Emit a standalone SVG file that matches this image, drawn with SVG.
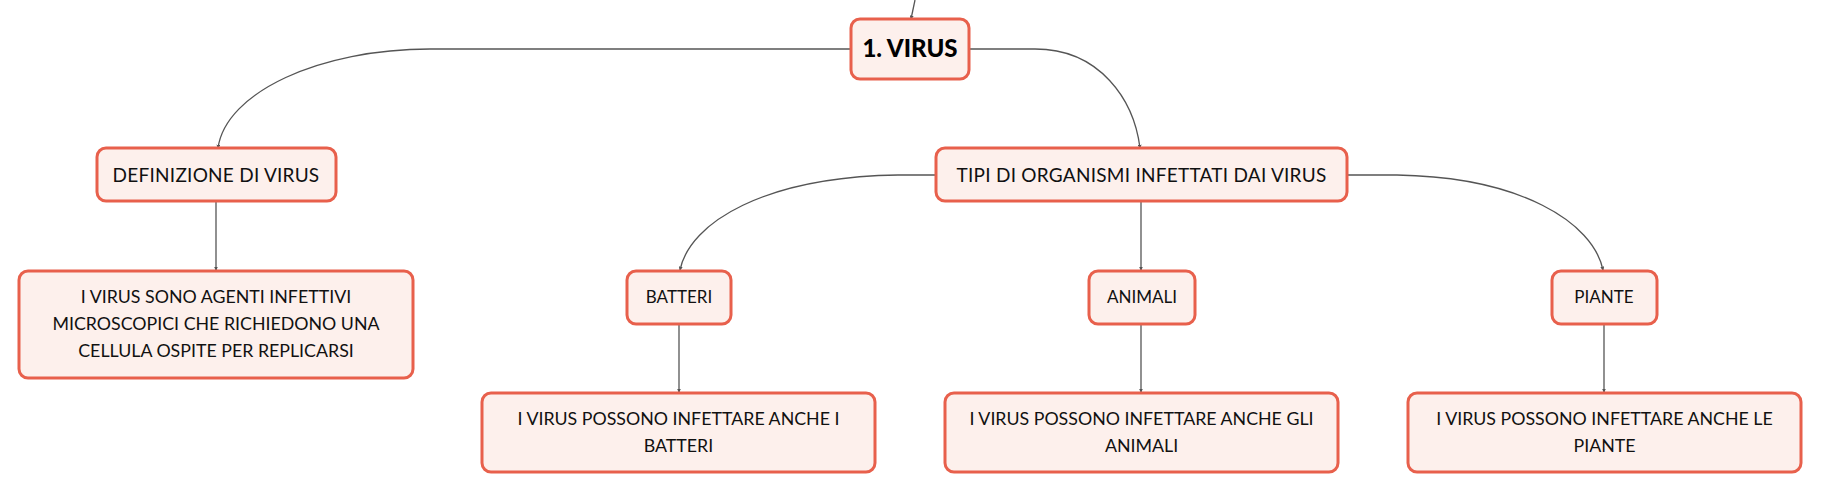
<svg xmlns="http://www.w3.org/2000/svg" width="1821" height="492" viewBox="0 0 1821 492">
<style>
.box{fill:#fdf0ec;stroke:#e8604c;stroke-width:3}
.t{font-family:Lato,"Noto Sans",sans-serif;font-size:17px;fill:#111;text-anchor:middle}
.t2{font-family:Lato,"Noto Sans",sans-serif;font-size:19px;letter-spacing:0.25px;fill:#111;text-anchor:middle}
.tm{font-family:Lato,"Noto Sans",sans-serif;font-size:17.8px;fill:#111;text-anchor:middle}
.tb{font-family:Lato,"Noto Sans",sans-serif;font-size:24px;font-weight:900;fill:#000;text-anchor:middle}
.c{fill:none;stroke:#555;stroke-width:1.3;marker-end:url(#a)}
</style>
<defs>
<marker id="a" viewBox="0 0 6 6" refX="5" refY="3" markerWidth="4" markerHeight="4" orient="auto" markerUnits="userSpaceOnUse">
<path d="M0,0 L6,3 L0,6 z" fill="#555"/>
</marker>
</defs>
<rect width="1821" height="492" fill="#fff"/>
<g id="connectors">
<path class="c" d="M915,0 L911,19"/>
<path class="c" d="M851,49 L430,49 C320,49 226,92 218,148"/>
<path class="c" d="M969,49 L1035,49 C1100,49 1134,100 1140,148"/>
<path class="c" d="M216,201 L216,270"/>
<path class="c" d="M936,175 L898,175 C765,177 690,222 680,270"/>
<path class="c" d="M1347,175 L1397,175 C1520,177 1593,222 1603,270"/>
<path class="c" d="M1141,201 L1141,270"/>
<path class="c" d="M679,324 L679,392"/>
<path class="c" d="M1141,324 L1141,392"/>
<path class="c" d="M1604,324 L1604,392"/>
</g>
<g id="n-virus">
<rect class="box" x="851" y="19" width="118" height="60" rx="9"/>
<text class="tb" x="910" y="57">1. VIRUS</text>
</g>
<g id="n-definizione">
<rect class="box" x="97" y="148" width="239" height="53" rx="9"/>
<text class="t2" x="216" y="182">DEFINIZIONE DI VIRUS</text>
</g>
<g id="n-def-text">
<rect class="box" x="19" y="271" width="394" height="107" rx="9"/>
<text class="tm" x="216" y="303">I VIRUS SONO AGENTI INFETTIVI</text>
<text class="tm" x="216" y="330">MICROSCOPICI CHE RICHIEDONO UNA</text>
<text class="tm" x="216" y="357">CELLULA OSPITE PER REPLICARSI</text>
</g>
<g id="n-tipi">
<rect class="box" x="936" y="148" width="411" height="53" rx="9"/>
<text class="t2" x="1141.5" y="182">TIPI DI ORGANISMI INFETTATI DAI VIRUS</text>
</g>
<g id="n-batteri">
<rect class="box" x="627" y="271" width="104" height="53" rx="9"/>
<text class="t" x="679" y="303">BATTERI</text>
</g>
<g id="n-animali">
<rect class="box" x="1089" y="271" width="106" height="53" rx="9"/>
<text class="t" x="1142" y="303">ANIMALI</text>
</g>
<g id="n-piante">
<rect class="box" x="1552" y="271" width="105" height="53" rx="9"/>
<text class="t" x="1604" y="303">PIANTE</text>
</g>
<g id="n-batteri-text">
<rect class="box" x="482" y="393" width="393" height="79" rx="9"/>
<text class="tm" x="678.5" y="425">I VIRUS POSSONO INFETTARE ANCHE I</text>
<text class="tm" x="678.5" y="452">BATTERI</text>
</g>
<g id="n-animali-text">
<rect class="box" x="945" y="393" width="393" height="79" rx="9"/>
<text class="tm" x="1141.5" y="425">I VIRUS POSSONO INFETTARE ANCHE GLI</text>
<text class="tm" x="1141.5" y="452">ANIMALI</text>
</g>
<g id="n-piante-text">
<rect class="box" x="1408" y="393" width="393" height="79" rx="9"/>
<text class="tm" x="1604.5" y="425">I VIRUS POSSONO INFETTARE ANCHE LE</text>
<text class="tm" x="1604.5" y="452">PIANTE</text>
</g>
</svg>
